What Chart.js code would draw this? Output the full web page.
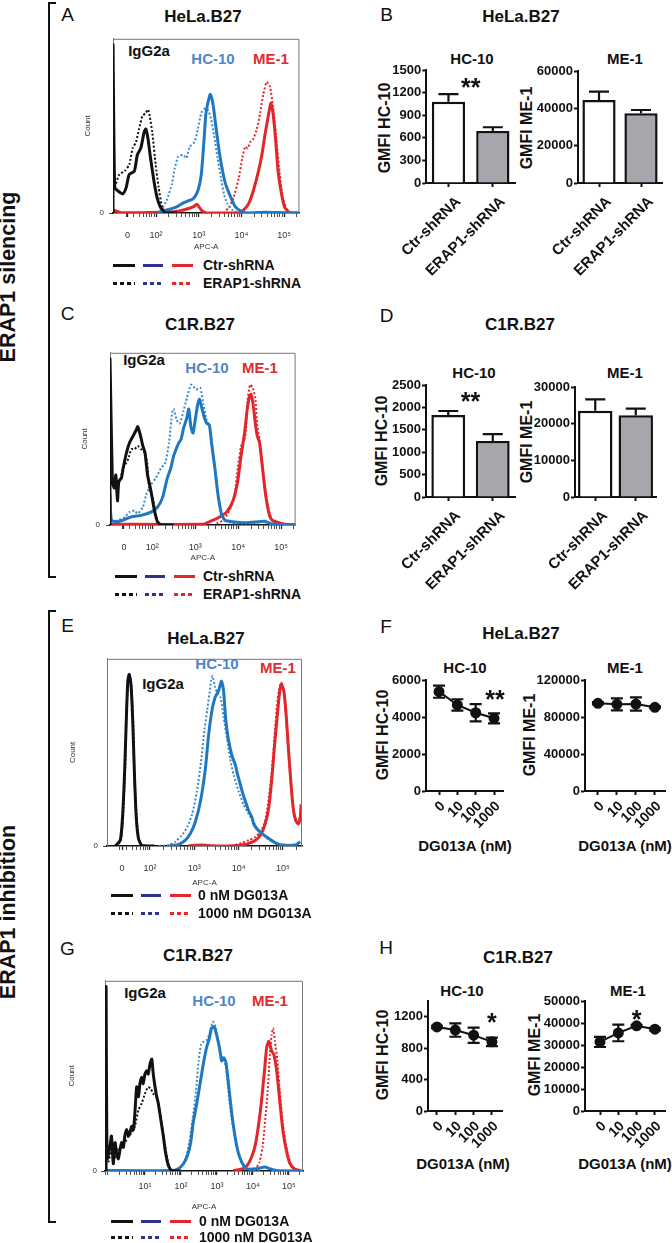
<!DOCTYPE html>
<html>
<head>
<meta charset="utf-8">
<script src="https://cdn.jsdelivr.net/npm/chart.js@4.4.1/dist/chart.umd.min.js"></script>
<style>
body{margin:0;background:#fff;}
#fig{position:relative;width:672px;height:1243px;overflow:hidden;font-family:"Liberation Sans",Arial,sans-serif;color:#111;}
#fig canvas{position:absolute;}
.t{position:absolute;transform:translate(-50%,-50%);white-space:nowrap;line-height:1;}
.lt{font-size:19px;}
.ti{font-size:17px;font-weight:bold;}
.st{font-size:15px;font-weight:bold;}
.yt{font-size:16px;font-weight:bold;transform:translate(-50%,-50%) rotate(-90deg);}
.side{font-size:21.5px;font-weight:bold;transform:translate(-50%,-50%) rotate(-90deg);}
.bracket{position:absolute;border:2px solid #111;border-right:none;width:6px;}
.lg{position:absolute;height:3px;}
.lgt{position:absolute;font-size:14px;font-weight:bold;transform:translateY(-50%);line-height:1;white-space:nowrap;}
.blue{color:#4f86c6;}
.red{color:#e02b2f;}
</style>
</head>
<body>
<div id="fig">
  <div class="bracket" style="left:48px;top:2px;height:572px;"></div>
  <div class="bracket" style="left:48px;top:610px;height:609px;"></div>
  <div class="t side" style="left:9px;top:277px;">ERAP1 silencing</div>
  <div class="t side" style="left:9px;top:912px;">ERAP1 inhibition</div>

  <div class="t lt" style="left:67.5px;top:14px;">A</div>
  <div class="t lt" style="left:386.5px;top:13.5px;">B</div>
  <div class="t lt" style="left:67.5px;top:312.5px;">C</div>
  <div class="t lt" style="left:386.5px;top:315px;">D</div>
  <div class="t lt" style="left:67.5px;top:625px;">E</div>
  <div class="t lt" style="left:386px;top:626px;">F</div>
  <div class="t lt" style="left:67.5px;top:947.5px;">G</div>
  <div class="t lt" style="left:386px;top:946.5px;">H</div>

  <div class="t ti" style="left:203px;top:16px;">HeLa.B27</div>
  <div class="t ti" style="left:521px;top:16px;">HeLa.B27</div>
  <div class="t ti" style="left:200px;top:324px;">C1R.B27</div>
  <div class="t ti" style="left:520px;top:324px;">C1R.B27</div>
  <div class="t ti" style="left:206px;top:637.5px;">HeLa.B27</div>
  <div class="t ti" style="left:521px;top:633px;">HeLa.B27</div>
  <div class="t ti" style="left:198px;top:955px;">C1R.B27</div>
  <div class="t ti" style="left:518px;top:957px;">C1R.B27</div>

  <div class="t st" style="left:472px;top:58px;">HC-10</div>
  <div class="t st" style="left:625px;top:58px;">ME-1</div>
  <div class="t st" style="left:474px;top:372px;">HC-10</div>
  <div class="t st" style="left:625px;top:372px;">ME-1</div>
  <div class="t st" style="left:465px;top:667px;">HC-10</div>
  <div class="t st" style="left:625px;top:667px;">ME-1</div>
  <div class="t st" style="left:462px;top:990px;">HC-10</div>
  <div class="t st" style="left:628px;top:990px;">ME-1</div>

  <div class="t yt" style="left:385px;top:128px;">GMFI HC-10</div>
  <div class="t yt" style="left:527px;top:128px;">GMFI ME-1</div>
  <div class="t yt" style="left:382px;top:441px;">GMFI HC-10</div>
  <div class="t yt" style="left:527px;top:442px;">GMFI ME-1</div>
  <div class="t yt" style="left:383px;top:735px;">GMFI HC-10</div>
  <div class="t yt" style="left:530px;top:735px;">GMFI ME-1</div>
  <div class="t yt" style="left:383px;top:1055px;">GMFI HC-10</div>
  <div class="t yt" style="left:535px;top:1055px;">GMFI ME-1</div>

  <div class="t st" style="left:465px;top:845px;">DG013A (nM)</div>
  <div class="t st" style="left:625px;top:845px;">DG013A (nM)</div>
  <div class="t st" style="left:463px;top:1163px;">DG013A (nM)</div>
  <div class="t st" style="left:625px;top:1163px;">DG013A (nM)</div>

  <div class="t st" style="left:149px;top:50px;">IgG2a</div>
  <div class="t st blue" style="left:213px;top:58px;">HC-10</div>
  <div class="t st red" style="left:271px;top:58px;">ME-1</div>
  <div class="t st" style="left:144px;top:359px;">IgG2a</div>
  <div class="t st blue" style="left:207px;top:367px;">HC-10</div>
  <div class="t st red" style="left:260px;top:367px;">ME-1</div>
  <div class="t st" style="left:163px;top:683px;">IgG2a</div>
  <div class="t st blue" style="left:217px;top:663px;">HC-10</div>
  <div class="t st red" style="left:278px;top:667px;">ME-1</div>
  <div class="t st" style="left:145px;top:992px;">IgG2a</div>
  <div class="t st blue" style="left:214px;top:1000px;">HC-10</div>
  <div class="t st red" style="left:270px;top:1000px;">ME-1</div>
</div>
<script>
// ---- flow histograms: x in decades (APC-A), y in % of max count ----
const aIggCtr = [[0.99,0],[0.99,96.6],[1.03,14.7],[1.10,12.8],[1.22,11.0],[1.30,14.7],[1.37,22.2],[1.49,24.0],[1.56,33.3],[1.64,37.1],[1.72,46.4],[1.76,48.2],[1.81,42.6],[1.87,31.5],[1.95,18.4],[2.02,9.1],[2.10,3.5],[2.22,0.2],[2.5,0]];
const aIggErap = [[1.03,14.7],[1.14,22.2],[1.26,24.0],[1.37,27.7],[1.45,37.1],[1.53,40.8],[1.60,48.2],[1.68,55.7],[1.76,57.5],[1.81,59.4],[1.85,55.7],[1.91,46.4],[1.99,27.7],[2.06,14.7],[2.14,3.5],[2.22,0.2],[2.5,0]];
const aHcCtr = [[2.02,0],[2.25,1.7],[2.48,3.5],[2.64,5.8],[2.75,6.9],[2.87,8.2],[2.98,12.8],[3.06,22.2],[3.12,40.8],[3.17,57.5],[3.23,65.0],[3.27,68.1],[3.33,63.1],[3.40,50.1],[3.48,35.2],[3.56,24.0],[3.63,16.6],[3.75,9.1],[3.86,3.5],[4.02,0.7],[4.17,0],[4.55,0.4],[4.8,0.3],[5.36,0]];
const aHcErap = [[2.02,0],[2.14,2.6],[2.25,7.3],[2.37,16.6],[2.44,25.9],[2.52,32.4],[2.64,33.3],[2.71,31.5],[2.79,38.0],[2.90,40.8],[2.98,48.2],[3.06,57.5],[3.13,59.8],[3.21,59.4],[3.29,53.8],[3.36,44.5],[3.44,31.5],[3.52,20.3],[3.59,11.0],[3.67,5.4],[3.79,1.7],[3.94,0.2],[4.2,0]];
const aMeCtr = [[0.99,1.7],[1.18,0.2],[2.41,0.7],[2.64,1.7],[2.87,3.5],[2.96,5.0],[3.06,1.7],[3.17,0.2],[3.94,0],[4.05,1.7],[4.17,5.4],[4.28,12.8],[4.40,24.0],[4.48,33.3],[4.55,44.5],[4.63,55.7],[4.69,63.1],[4.74,57.5],[4.80,42.6],[4.86,24.0],[4.94,11.0],[5.01,3.5],[5.13,0.2],[5.36,0]];
const aMeErap = [[3.48,0],[3.59,0.2],[3.71,3.5],[3.82,9.1],[3.94,20.3],[4.02,31.5],[4.09,38.0],[4.15,37.1],[4.21,40.8],[4.28,42.6],[4.36,48.2],[4.44,57.5],[4.51,67.8],[4.59,75.2],[4.67,72.4],[4.74,61.3],[4.82,42.6],[4.90,22.2],[4.97,9.1],[5.05,2.6],[5.13,0.2],[5.36,0]];

const cIggCtr = [[1.015,0],[1.015,96.5],[1.07,25.3],[1.115,21.5],[1.15,29.0],[1.19,14.0],[1.22,25.3],[1.28,27.2],[1.32,32.8],[1.40,42.1],[1.47,47.8],[1.55,51.5],[1.63,55.3],[1.66,57.1],[1.73,51.5],[1.78,45.9],[1.83,42.1],[1.89,29.0],[1.97,19.7],[2.05,8.4],[2.12,1.9],[2.20,0.2],[2.5,0]];
const cIggErap = [[1.13,23.4],[1.24,25.3],[1.32,32.8],[1.44,38.4],[1.51,44.0],[1.59,44.0],[1.66,45.9],[1.74,44.0],[1.82,42.1],[1.88,36.5],[1.93,21.5],[2.01,15.9],[2.08,6.6],[2.16,0.9],[2.4,0]];
const cHcCtr = [[1.015,17.8],[1.05,2.8],[1.21,1.9],[1.51,4.7],[1.74,5.6],[1.97,7.5],[2.12,10.3],[2.24,15.9],[2.35,27.2],[2.43,32.8],[2.50,40.3],[2.62,47.8],[2.67,49.6],[2.73,56.2],[2.81,62.7],[2.85,67.4],[2.90,57.1],[2.95,53.4],[3.00,60.9],[3.06,70.2],[3.10,73.0],[3.15,68.4],[3.21,62.7],[3.27,59.0],[3.33,58.1],[3.38,47.8],[3.46,32.8],[3.53,17.8],[3.61,6.6],[3.69,2.8],[3.88,1.9],[4.18,1.3],[4.49,1.9],[4.64,2.1],[4.79,0.6],[5.33,0.2]];
const cHcErap = [[1.05,1.9],[1.21,2.8],[1.36,4.7],[1.47,7.5],[1.59,8.4],[1.66,6.6],[1.78,10.3],[1.86,17.8],[1.97,23.4],[2.08,27.2],[2.20,32.8],[2.26,34.7],[2.31,36.5],[2.39,47.8],[2.47,66.5],[2.50,67.4],[2.57,60.9],[2.64,59.0],[2.73,66.5],[2.81,74.0],[2.90,81.5],[2.96,80.5],[3.02,78.7],[3.12,79.6],[3.19,70.2],[3.27,60.9],[3.33,58.1],[3.41,44.0],[3.48,27.2],[3.56,14.0],[3.65,4.7],[3.76,1.9],[3.95,0.9],[4.34,0.9],[4.57,1.9],[4.72,0.9],[5.0,0.5]];
const cMeCtr = [[1.015,0.4],[3.19,0.4],[3.27,1.3],[3.42,2.8],[3.57,4.7],[3.73,7.5],[3.88,14.0],[3.99,25.3],[4.07,40.3],[4.15,53.4],[4.21,66.5],[4.26,74.0],[4.30,75.9],[4.35,70.2],[4.41,57.1],[4.45,51.5],[4.50,47.8],[4.57,32.8],[4.64,17.8],[4.72,6.6],[4.79,2.8],[4.95,1.3],[5.10,0.4],[5.33,0.2]];
const cMeErap = [[3.50,0.9],[3.65,2.8],[3.80,8.4],[3.92,17.8],[3.99,32.8],[4.07,45.9],[4.11,47.8],[4.17,51.5],[4.22,72.1],[4.28,81.5],[4.34,79.6],[4.40,74.0],[4.45,57.1],[4.50,49.6],[4.57,34.7],[4.64,19.7],[4.72,8.4],[4.79,2.8],[4.91,0.9],[5.1,0.2]];

const eIggCtr = [[1.22,0],[1.33,3.1],[1.38,15.3],[1.43,41.3],[1.47,70.8],[1.50,88.2],[1.53,91.7],[1.57,86.5],[1.61,67.4],[1.65,37.8],[1.69,15.3],[1.74,4.0],[1.82,0.3],[2.1,0]];
const eIggErap = [[1.22,0],[1.34,2.8],[1.39,14.4],[1.44,42.2],[1.47,71.7],[1.51,88.5],[1.54,91.3],[1.58,85.6],[1.62,65.6],[1.65,37.0],[1.70,14.4],[1.75,3.6],[1.83,0.2],[2.1,0]];
const eHcCtr = [[2.42,0],[2.65,0.9],[2.80,3.1],[2.91,6.6],[3.02,12.7],[3.14,24.0],[3.25,41.3],[3.32,58.7],[3.40,72.6],[3.47,79.5],[3.55,83.0],[3.61,88.2],[3.66,83.0],[3.71,67.4],[3.77,56.9],[3.85,48.3],[3.93,43.1],[3.96,39.6],[4.02,34.4],[4.08,29.2],[4.15,24.0],[4.23,18.7],[4.30,15.3],[4.34,11.8],[4.41,9.2],[4.53,6.6],[4.68,4.0],[4.83,1.7],[4.98,0.5],[5.28,0.5],[5.39,2.3]];
const eHcErap = [[2.20,0],[2.42,0.5],[2.57,2.3],[2.72,5.7],[2.84,10.1],[2.95,17.0],[3.06,29.2],[3.15,44.8],[3.23,62.1],[3.29,72.6],[3.34,81.2],[3.38,88.2],[3.41,90.8],[3.47,84.7],[3.53,81.2],[3.59,79.5],[3.66,69.1],[3.74,56.9],[3.81,46.5],[3.89,37.8],[4.00,29.2],[4.11,22.2],[4.23,17.0],[4.34,12.7],[4.45,8.3],[4.60,4.9],[4.75,2.3],[4.98,0.5],[5.2,0]];
const eMeCtr = [[2.87,0.2],[3.17,0.5],[3.40,0.2],[3.77,0],[4.08,0.5],[4.23,1.4],[4.38,3.1],[4.49,5.7],[4.60,11.8],[4.68,20.5],[4.75,36.1],[4.81,53.5],[4.87,69.1],[4.92,81.2],[4.96,86.5],[5.02,83.0],[5.07,70.8],[5.13,50.0],[5.19,30.9],[5.24,18.7],[5.29,13.5],[5.35,11.8],[5.39,15.3],[5.41,22.2]];
const eMeErap = [[3.93,0.5],[4.08,1.7],[4.23,3.1],[4.38,4.9],[4.49,7.5],[4.59,12.7],[4.66,22.2],[4.74,37.8],[4.80,55.2],[4.85,70.8],[4.90,82.1],[4.96,87.3],[5.01,83.8],[5.06,71.7],[5.12,50.9],[5.18,31.8],[5.23,19.6],[5.29,14.4],[5.35,12.7],[5.38,16.1]];

const gIggCtr = [[-0.08,0],[-0.08,97],[-0.05,6.4],[0.03,13.2],[0.07,18.4],[0.12,3.8],[0.17,14.9],[0.21,9.8],[0.26,6.4],[0.31,11.5],[0.35,14.9],[0.40,12.4],[0.44,18.4],[0.49,21.8],[0.54,18.4],[0.58,20.1],[0.63,23.5],[0.68,21.8],[0.72,30.4],[0.77,44.2],[0.82,39.0],[0.86,45.9],[0.91,49.3],[0.95,45.9],[1.00,51.0],[1.05,52.7],[1.09,51.0],[1.14,56.2],[1.19,58.8],[1.23,51.0],[1.31,40.7],[1.37,35.6],[1.44,27.0],[1.51,18.4],[1.57,9.8],[1.65,2.9],[1.74,0.3],[2.0,0]];
const gIggErap = [[-0.02,4.6],[0.07,9.8],[0.17,7.2],[0.26,11.5],[0.35,13.2],[0.44,14.9],[0.54,18.4],[0.63,20.1],[0.72,23.5],[0.82,32.1],[0.91,35.6],[1.00,40.7],[1.09,44.2],[1.16,43.3],[1.23,40.7],[1.31,39.0],[1.37,35.6],[1.46,25.3],[1.56,13.2],[1.65,3.8],[1.74,0.3],[2.0,0]];
const gHcCtr = [[-0.11,0.3],[1.74,0.2],[1.93,1.2],[2.07,3.8],[2.18,8.1],[2.27,14.9],[2.34,25.3],[2.44,35.6],[2.53,45.9],[2.62,56.2],[2.71,64.8],[2.79,69.9],[2.85,75.1],[2.92,75.9],[2.99,71.6],[3.07,64.8],[3.13,57.9],[3.19,59.6],[3.25,57.0],[3.32,45.9],[3.41,30.4],[3.50,18.4],[3.59,9.8],[3.69,4.6],[3.82,1.2],[4.10,1.2],[4.33,2.1],[4.47,1.2],[4.66,0.3],[5.39,0]];
const gHcErap = [[1.88,0.9],[2.02,2.9],[2.14,7.2],[2.23,14.9],[2.32,27.0],[2.42,42.4],[2.49,57.9],[2.56,66.5],[2.64,68.2],[2.73,69.1],[2.81,73.4],[2.88,78.5],[2.95,76.8],[3.04,68.2],[3.10,61.3],[3.18,58.8],[3.25,54.5],[3.34,37.3],[3.44,23.5],[3.55,13.2],[3.64,7.2],[3.73,2.9],[3.87,0.9],[4.2,0]];
const gMeCtr = [[3.45,0.2],[3.73,1.2],[3.87,3.8],[3.96,7.2],[4.06,13.2],[4.15,23.5],[4.24,37.3],[4.32,52.7],[4.38,64.8],[4.44,68.2],[4.52,63.1],[4.58,61.3],[4.66,52.7],[4.75,35.6],[4.84,20.1],[4.94,9.8],[5.03,3.8],[5.17,0.9],[5.31,0.2]];
const gMeErap = [[3.92,0.2],[4.06,1.2],[4.18,4.6],[4.27,13.2],[4.34,27.0],[4.41,42.4],[4.47,61.3],[4.52,71.6],[4.56,75.1],[4.61,68.2],[4.68,57.9],[4.75,40.7],[4.84,23.5],[4.94,11.5],[5.05,3.8],[5.17,0.9],[5.31,0.2]];

// tick labels of the APC-A axes (position in decades, label)
const ticksA = [[1.33,'0'],[2,'10²'],[3,'10³'],[4,'10⁴'],[5,'10⁵']];
const ticksC = [[1.34,'0'],[2,'10²'],[3,'10³'],[4,'10⁴'],[5,'10⁵']];
const ticksE = [[1.37,'0'],[2,'10²'],[3,'10³'],[4,'10⁴'],[5,'10⁵']];
const ticksG = [[1,'10¹'],[2,'10²'],[3,'10³'],[4,'10⁴'],[5,'10⁵']];
const legendSh = ['Ctr-shRNA', 'ERAP1-shRNA'];
const legendDG = ['0 nM DG013A', '1000 nM DG013A'];

// ---- GMFI summaries ----
const shCats = ['Ctr-shRNA', 'ERAP1-shRNA'];
const bHc10 = [1080, 690], bHc10Err = [100, 50];
const bMe1 = [44500, 37300], bMe1Err = [4400, 1800];
const dHc10 = [1830, 1250], dHc10Err = [90, 155];
const dMe1 = [23500, 22300], dMe1Err = [3100, 1800];
const doses = ['0', '10', '100', '1000'];
const fHc10 = [5370, 4650, 4230, 3930], fHc10Err = [330, 310, 470, 270];
const fMe1 = [94800, 93700, 94000, 90500], fMe1Err = [1200, 6500, 7200, 1000];
const hHc10 = [1070, 1030, 965, 880], hHc10Err = [15, 85, 97, 55];
const hMe1 = [31400, 35500, 38700, 37200], hMe1Err = [2300, 3800, 500, 600];

const BLACK = '#111', BLUE = '#1f78bf', BLUE2 = '#3a8ad0', RED = '#e3262b', NAVY = '#2e3192';
const FONT = 'Arial, "Liberation Sans", sans-serif';
Chart.defaults.font.family = FONT;
Chart.defaults.color = '#111';
Chart.defaults.animation = false;
Chart.defaults.plugins.legend.display = false;
Chart.defaults.plugins.tooltip.enabled = false;

const fig = document.getElementById('fig');

function canvasAt(L, T, W, H) {
  const c = document.createElement('canvas');
  c.width = W; c.height = H;
  c.style.left = L + 'px'; c.style.top = T + 'px';
  c.style.width = W + 'px'; c.style.height = H + 'px';
  fig.appendChild(c);
  return c;
}

// box = [left, top, width, height], area = [x0, y0, x1, y1] of the plot area
function fit(box, area) {
  return {
    padding: { top: area[1] - box[1], right: box[0] + box[2] - area[2], left: 0, bottom: 0 },
    yw: area[0] - box[0],
    xh: box[1] + box[3] - area[3]
  };
}

const frame = {
  id: 'frame',
  afterDraw(chart) {
    const a = chart.chartArea, c = chart.ctx;
    c.save();
    c.strokeStyle = '#777'; c.lineWidth = 1;
    c.beginPath();
    c.moveTo(a.left, a.top + 0.5); c.lineTo(a.right - 0.5, a.top + 0.5); c.lineTo(a.right - 0.5, a.bottom);
    c.stroke();
    c.restore();
  }
};

const errorBars = {
  id: 'errorBars',
  afterDatasetsDraw(chart) {
    const c = chart.ctx, ys = chart.scales.y;
    chart.data.datasets.forEach((ds, di) => {
      if (!ds.errors) return;
      chart.getDatasetMeta(di).data.forEach((el, i) => {
        const d = ds.data[i], v = typeof d === 'number' ? d : d.y, e = ds.errors[i];
        if (!e) return;
        const top = ys.getPixelForValue(v + e);
        const bot = ys.getPixelForValue(ds.errUp ? v : v - e);
        const w = ds.capW / 2;
        c.save();
        c.strokeStyle = BLACK; c.lineWidth = 2.2;
        c.beginPath();
        c.moveTo(el.x, top); c.lineTo(el.x, bot);
        c.moveTo(el.x - w, top); c.lineTo(el.x + w, top);
        if (!ds.errUp) { c.moveTo(el.x - w, bot); c.lineTo(el.x + w, bot); }
        c.stroke();
        c.restore();
      });
    });
  }
};

const sigMarks = {
  id: 'sig',
  afterDatasetsDraw(chart, args, opts) {
    if (!opts.text) return;
    const c = chart.ctx;
    const x = chart.scales.x.getPixelForValue(opts.at);
    const y = chart.scales.y.getPixelForValue(opts.level);
    c.save();
    c.font = 'bold 25px ' + FONT;
    c.fillStyle = BLACK; c.textAlign = 'center'; c.textBaseline = 'alphabetic';
    c.fillText(opts.text, x, y + 14);
    c.restore();
  }
};

function flowChart(box, area, xRange, tickList, tickPad, zeroPad, curves) {
  const f = fit(box, area);
  const labels = {};
  tickList.forEach(t => { labels[t[0].toFixed(3)] = t[1]; });
  const tv = tickList.map(t => ({ value: t[0], major: true }));
  for (let d = Math.floor(xRange[0]); d <= Math.ceil(xRange[1]); d++) {
    for (let k = 2; k <= 9; k++) {
      const v = d + Math.log10(k);
      if (v > xRange[0] && v < xRange[1]) tv.push({ value: v });
    }
  }
  tv.sort((a, b) => a.value - b.value);
  new Chart(canvasAt(...box), {
    type: 'line',
    data: {
      datasets: curves.map(cv => ({
        data: cv[0].map(p => ({ x: p[0], y: p[1] })),
        borderColor: cv[1],
        borderWidth: cv[2] ? 2 : 3,
        borderDash: cv[2] ? [2, 2] : [],
        pointRadius: 0,
        tension: 0.2,
        fill: false
      }))
    },
    options: {
      responsive: false,
      layout: { padding: f.padding },
      scales: {
        x: {
          type: 'linear', min: xRange[0], max: xRange[1],
          afterBuildTicks: s => { s.ticks = tv.map(t => Object.assign({}, t)); },
          afterFit: s => { s.height = f.xh; },
          border: { color: BLACK, width: 1.5 },
          grid: { drawOnChartArea: false, tickLength: 4, tickColor: '#222',
                  tickWidth: c => (c.tick && c.tick.major) ? 1.3 : 0.8 },
          ticks: { autoSkip: false, maxRotation: 0, padding: tickPad, font: { size: 9 }, color: '#333',
                   callback: v => labels[Number(v).toFixed(3)] || '' },
          title: { display: true, text: 'APC-A', font: { size: 8 }, color: '#333', padding: { top: 0, bottom: 2 } }
        },
        y: {
          min: 0, max: 100,
          afterBuildTicks: s => { s.ticks = [{ value: 0 }]; },
          afterFit: s => { s.width = f.yw; },
          border: { color: '#777', width: 1 },
          grid: { drawOnChartArea: false, tickLength: 4, tickColor: '#444' },
          ticks: { padding: zeroPad, font: { size: 8 }, color: '#333', callback: () => '0' },
          title: { display: true, text: 'Count', font: { size: 8 }, color: '#333', padding: { top: 3, bottom: 0 } }
        }
      }
    },
    plugins: [frame]
  });
}

function legendRow(x0, y, dotted, text, tx) {
  [[0, 22, BLACK], [30, 20, NAVY], [59, 21, RED]].forEach(sg => {
    const s = document.createElement('div');
    s.className = 'lg';
    s.style.left = (x0 + sg[0]) + 'px';
    s.style.top = (y - 1.5) + 'px';
    s.style.width = sg[1] + 'px';
    s.style.background = dotted ? 'repeating-linear-gradient(90deg,' + sg[2] + ' 0 4px,transparent 4px 7px)' : sg[2];
    fig.appendChild(s);
  });
  const t = document.createElement('div');
  t.className = 'lgt';
  t.textContent = text;
  t.style.left = tx + 'px';
  t.style.top = y + 'px';
  fig.appendChild(t);
}

function axisY(f, max, step) {
  return {
    min: 0, max: max,
    afterFit: s => { s.width = f.yw; },
    border: { color: BLACK, width: 2 },
    grid: { drawOnChartArea: false, tickLength: 4, tickWidth: 2, tickColor: BLACK },
    ticks: { stepSize: step, padding: 1, font: { size: 13, weight: 'bold' }, callback: v => String(v) }
  };
}

function barChart(box, area, max, step, vals, errs, barPct, sig) {
  const f = fit(box, area);
  new Chart(canvasAt(...box), {
    type: 'bar',
    data: {
      labels: shCats,
      datasets: [{
        data: vals, errors: errs, errUp: true, capW: 20,
        backgroundColor: ['#ffffff', '#a6a6ad'], borderColor: BLACK, borderWidth: 2.5,
        barPercentage: barPct, categoryPercentage: 1
      }]
    },
    options: {
      responsive: false,
      layout: { padding: f.padding },
      scales: {
        x: {
          afterFit: s => { s.height = f.xh; },
          border: { color: BLACK, width: 2 },
          grid: { offset: false, drawOnChartArea: false, tickLength: 4, tickWidth: 2, tickColor: BLACK },
          ticks: { minRotation: 45, maxRotation: 45, padding: 6, labelOffset: 10, font: { size: 15, weight: 'bold' } }
        },
        y: axisY(f, max, step)
      },
      plugins: { sig: sig || {} }
    },
    plugins: [errorBars, sigMarks]
  });
}

function doseChart(box, area, xr, max, step, vals, errs, sig) {
  const f = fit(box, area);
  new Chart(canvasAt(...box), {
    type: 'line',
    data: {
      datasets: [{
        data: vals.map((v, i) => ({ x: i, y: v })), errors: errs, errUp: false, capW: 12,
        borderColor: BLACK, borderWidth: 2, tension: 0,
        pointRadius: 4.5, pointBackgroundColor: BLACK, pointBorderColor: BLACK
      }]
    },
    options: {
      responsive: false,
      layout: { padding: f.padding },
      scales: {
        x: {
          type: 'linear', min: xr[0], max: xr[1],
          afterBuildTicks: s => { s.ticks = doses.map((d, i) => ({ value: i })); },
          afterFit: s => { s.height = f.xh; },
          border: { color: BLACK, width: 2 },
          grid: { drawOnChartArea: false, tickLength: 4, tickWidth: 2, tickColor: BLACK },
          ticks: { autoSkip: false, minRotation: 45, maxRotation: 45, padding: 3, labelOffset: 4,
                   font: { size: 14, weight: 'bold' }, callback: v => doses[v] }
        },
        y: axisY(f, max, step)
      },
      plugins: { sig: sig || {} }
    },
    plugins: [errorBars, sigMarks]
  });
}

// ---- histograms ----
flowChart([80, 29, 230, 225], [113, 34, 303, 213], [0.99, 5.36], ticksA, 13, 5, [
  [aIggCtr, BLACK, false], [aHcCtr, BLUE, false], [aMeCtr, RED, false],
  [aIggErap, BLACK, true], [aHcErap, BLUE2, true], [aMeErap, RED, true]]);
flowChart([77, 342, 230, 223], [110, 347, 299, 525], [1.015, 5.34], ticksC, 13, 6, [
  [cIggCtr, BLACK, false], [cHcCtr, BLUE, false], [cMeCtr, RED, false],
  [cIggErap, BLACK, true], [cHcErap, BLUE2, true], [cMeErap, RED, true]]);
flowChart([65, 649, 245, 241], [107, 654, 302, 846], [1.03, 5.43], ticksE, 13, 5, [
  [eIggCtr, BLACK, false], [eHcCtr, BLUE, false], [eMeCtr, RED, false],
  [eIggErap, BLACK, true], [eHcErap, BLUE2, true], [eMeErap, RED, true]]);
flowChart([64, 972, 246, 242], [105, 977, 303, 1171], [-0.11, 5.39], ticksG, 6, 4, [
  [gIggCtr, BLACK, false], [gHcCtr, BLUE, false], [gMeCtr, RED, false],
  [gIggErap, BLACK, true], [gHcErap, BLUE2, true], [gMeErap, RED, true]]);

legendRow(113, 265, false, legendSh[0], 203);
legendRow(113, 283, true, legendSh[1], 203);
legendRow(115, 576, false, legendSh[0], 203);
legendRow(115, 594, true, legendSh[1], 203);
legendRow(111, 895, false, legendDG[0], 198);
legendRow(111, 913, true, legendDG[1], 198);
legendRow(111, 1221, false, legendDG[0], 199);
legendRow(111, 1237, true, legendDG[1], 199);

// ---- GMFI bar charts ----
barChart([376, 58, 149, 232], [425, 70, 515, 183], 1500, 300, bHc10, bHc10Err, 0.75,
  { text: '**', at: 0.5, level: 1341 });
barChart([518, 59, 154, 231], [578, 71, 662, 183], 60000, 20000, bMe1, bMe1Err, 0.79);
barChart([373, 373, 152, 232], [426, 385, 515, 497], 2500, 500, dHc10, dHc10Err, 0.76,
  { text: '**', at: 0.5, level: 2254 });
barChart([518, 375, 150, 230], [575, 387, 656, 497], 30000, 10000, dMe1, dMe1Err, 0.85);

// ---- dose response ----
doseChart([374, 668, 139, 160], [426, 680, 503, 791], [-0.71, 3.49], 6000, 1000, fHc10, fHc10Err,
  { text: '**', at: 3.05, level: 5243 });
doseChart([521, 668, 151, 160], [585, 680, 665, 791], [-0.68, 3.53], 120000, 20000, fMe1, fMe1Err);
doseChart([374, 989, 138, 160], [428, 1001, 502, 1111], [-0.49, 3.55], 1400, 200, hHc10, hHc10Err,
  { text: '*', at: 3, level: 1193 });
doseChart([526, 989, 146, 160], [585, 1001, 665, 1111], [-0.82, 3.55], 50000, 10000, hMe1, hMe1Err,
  { text: '*', at: 2, level: 43970 });
</script>
</body>
</html>
